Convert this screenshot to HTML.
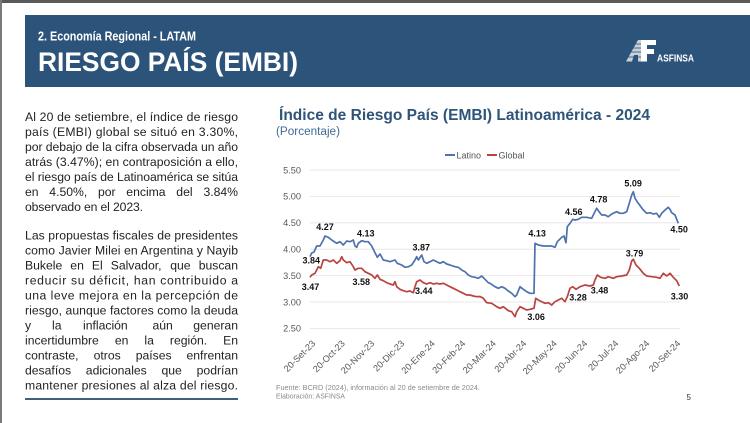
<!DOCTYPE html>
<html>
<head>
<meta charset="utf-8">
<style>
html,body{margin:0;padding:0;background:#fff;}
body{width:750px;height:423px;overflow:hidden;position:relative;font-family:"Liberation Sans",Arial,sans-serif;}
svg{position:absolute;left:0;top:0;}
</style>
</head>
<body>
<svg width="750" height="423" viewBox="0 0 750 423" xmlns="http://www.w3.org/2000/svg" font-family="Liberation Sans, Arial, sans-serif">
  <!-- frame -->
  <rect x="0" y="0" width="750" height="3" fill="#5a5a5a"/>
  <rect x="0" y="0" width="2" height="423" fill="#7a7a7a"/>

  <!-- header banner -->
  <rect x="25" y="15" width="725" height="72" fill="#2c547b"/>
  <text x="38" y="40.5" font-size="13" font-weight="bold" fill="#ffffff" textLength="158" lengthAdjust="spacingAndGlyphs">2. Economía Regional - LATAM</text>
  <text x="38" y="71" font-size="27" font-weight="bold" fill="#ffffff" textLength="260" lengthAdjust="spacingAndGlyphs">RIESGO PAÍS (EMBI)</text>

  <!-- logo -->
  <g>
    <polygon points="626,61.5 638,40 644,40 644,61.5 638,61.5 638,55 634,55 632,61.5" fill="#c9d0d8"/>
    <polygon points="641,40 656,40 656,45 647,45 647,49 654,49 654,54 647,54 647,61.5 641,61.5" fill="#ffffff"/>
    <line x1="628" y1="44" x2="641" y2="44" stroke="#2c547b" stroke-width="0.8"/>
    <line x1="626" y1="48" x2="641" y2="48" stroke="#2c547b" stroke-width="0.8"/>
    <line x1="626" y1="52" x2="641" y2="52" stroke="#2c547b" stroke-width="0.8"/>
    <line x1="626" y1="57" x2="641" y2="57" stroke="#2c547b" stroke-width="0.8"/>
    <text x="657" y="61.5" font-size="10" font-weight="bold" fill="#ffffff" textLength="37" lengthAdjust="spacingAndGlyphs">ASFINSA</text>
  </g>

  <!-- left text -->
  <g font-size="12.2" fill="#222222">
    <text x="25" y="121" textLength="213" lengthAdjust="spacing">Al 20 de setiembre, el índice de riesgo</text>
    <text x="25" y="136" textLength="213" lengthAdjust="spacing">país (EMBI) global se situó en 3.30%,</text>
    <text x="25" y="151" textLength="213" lengthAdjust="spacing">por debajo de la cifra observada un año</text>
    <text x="25" y="166" textLength="213" lengthAdjust="spacing">atrás (3.47%); en contraposición a ello,</text>
    <text x="25" y="181" textLength="213" lengthAdjust="spacing">el riesgo país de Latinoamérica se sitúa</text>
    <text x="25" y="196">en</text>
    <text x="49.3" y="196">4.50%,</text>
    <text x="98" y="196">por</text>
    <text x="126.3" y="196">encima</text>
    <text x="176.3" y="196">del</text>
    <text x="238" y="196" text-anchor="end">3.84%</text>
    <text x="25" y="211" textLength="118" lengthAdjust="spacing">observado en el 2023.</text>

    <text x="25" y="239.5" textLength="213" lengthAdjust="spacing">Las propuestas fiscales de presidentes</text>
    <text x="25" y="254.5" textLength="213" lengthAdjust="spacing">como Javier Milei en Argentina y Nayib</text>
    <text x="25" y="269.5">Bukele</text>
    <text x="70.3" y="269.5">en</text>
    <text x="91.9" y="269.5">El</text>
    <text x="110.7" y="269.5">Salvador,</text>
    <text x="170.2" y="269.5">que</text>
    <text x="238" y="269.5" text-anchor="end">buscan</text>
    <text x="25" y="284.5" textLength="213" lengthAdjust="spacing">reducir su déficit, han contribuido a</text>
    <text x="25" y="299.5" textLength="213" lengthAdjust="spacing">una leve mejora en la percepción de</text>
    <text x="25" y="314.5" textLength="213" lengthAdjust="spacing">riesgo, aunque factores como la deuda</text>
    <text x="25" y="329.5">y</text>
    <text x="52" y="329.5">la</text>
    <text x="83" y="329.5">inflación</text>
    <text x="152.5" y="329.5">aún</text>
    <text x="238" y="329.5" text-anchor="end">generan</text>
    <text x="25" y="344.5">incertidumbre</text>
    <text x="114.9" y="344.5">en</text>
    <text x="144.4" y="344.5">la</text>
    <text x="169.9" y="344.5">región.</text>
    <text x="238" y="344.5" text-anchor="end">En</text>
    <text x="25" y="359.5">contraste,</text>
    <text x="93.6" y="359.5">otros</text>
    <text x="135.7" y="359.5">países</text>
    <text x="238" y="359.5" text-anchor="end">enfrentan</text>
    <text x="25" y="374.5">desafíos</text>
    <text x="85.8" y="374.5">adicionales</text>
    <text x="161.5" y="374.5">que</text>
    <text x="238" y="374.5" text-anchor="end">podrían</text>
    <text x="25" y="389.5" textLength="213" lengthAdjust="spacing">mantener presiones al alza del riesgo.</text>
  </g>
  <rect x="25" y="398" width="213" height="2" fill="#3d5f80"/>

  <!-- chart title -->
  <text x="279" y="120" font-size="15.5" font-weight="bold" fill="#2f5479" textLength="371" lengthAdjust="spacingAndGlyphs">Índice de Riesgo País (EMBI) Latinoamérica - 2024</text>
  <text x="276" y="135" font-size="11.5" fill="#3f6a94" textLength="64" lengthAdjust="spacingAndGlyphs">(Porcentaje)</text>

  <!-- legend -->
  <line x1="445" y1="155" x2="455" y2="155" stroke="#4d72ad" stroke-width="2"/>
  <text x="456.5" y="158.3" font-size="9" fill="#555555">Latino</text>
  <line x1="487" y1="155" x2="497" y2="155" stroke="#b8433f" stroke-width="2"/>
  <text x="498.5" y="158.3" font-size="9" fill="#555555">Global</text>

  <!-- gridlines -->
  <g stroke="#e3e3e3" stroke-width="0.8">
    <line x1="310" y1="170" x2="680" y2="170"/>
    <line x1="310" y1="196.4" x2="680" y2="196.4"/>
    <line x1="310" y1="222.8" x2="680" y2="222.8"/>
    <line x1="310" y1="249.2" x2="680" y2="249.2"/>
    <line x1="310" y1="275.6" x2="680" y2="275.6"/>
    <line x1="310" y1="302" x2="680" y2="302"/>
    <line x1="310" y1="328.4" x2="680" y2="328.4"/>
  </g>
  <g font-size="9.2" fill="#595959" text-anchor="end">
    <text x="301" y="173.3">5.50</text>
    <text x="301" y="199.7">5.00</text>
    <text x="301" y="226.1">4.50</text>
    <text x="301" y="252.5">4.00</text>
    <text x="301" y="278.9">3.50</text>
    <text x="301" y="305.3">3.00</text>
    <text x="301" y="331.7">2.50</text>
  </g>

  <!-- x labels -->
  <g font-size="9.2" fill="#595959" text-anchor="end">
    <text transform="translate(316,344) rotate(-45)">20-Set-23</text>
    <text transform="translate(345.5,344) rotate(-45)">20-Oct-23</text>
    <text transform="translate(375,344) rotate(-45)">20-Nov-23</text>
    <text transform="translate(405,344) rotate(-45)">20-Dic-23</text>
    <text transform="translate(435.5,344) rotate(-45)">20-Ene-24</text>
    <text transform="translate(466,344) rotate(-45)">20-Feb-24</text>
    <text transform="translate(496.5,344) rotate(-45)">20-Mar-24</text>
    <text transform="translate(527,344) rotate(-45)">20-Abr-24</text>
    <text transform="translate(557.5,344) rotate(-45)">20-May-24</text>
    <text transform="translate(588,344) rotate(-45)">20-Jun-24</text>
    <text transform="translate(619,344) rotate(-45)">20-Jul-24</text>
    <text transform="translate(650,344) rotate(-45)">20-Ago-24</text>
    <text transform="translate(681,344) rotate(-45)">20-Set-24</text>
  </g>

  <!-- series -->
  <polyline fill="none" stroke="#b8433f" stroke-width="1.7" stroke-linejoin="round" points="310,277.3 311.7,275 315,273.3 318.3,266.7 320.7,268.3 323.3,260 326.7,260 330,261.7 333.3,260 336.7,263.3 340,260.7 341.7,256.7 343.3,260 346.7,262.7 350,261.7 353.3,266.7 355,270 358.3,268.3 361.7,268.3 365,271.7 368.3,273.3 371.7,275 375,278.3 377.3,275 380,279.3 383.3,280.7 386.7,282.7 390,284 393.3,285 395,281.7 396.7,286.7 400,289.3 403.3,290.7 406.7,291.7 410,291 413.3,292.7 415,286.7 416.7,281.7 420,280 423.3,282.7 426.7,284 430,282.7 433.3,284 436.7,283.3 440,284 443.3,283.3 446.7,285 450,286.7 453.3,288.3 456.7,290 460,291.7 463.3,293.3 466.7,295 470,295 473.3,296 476.7,296.7 480,296.5 483.3,298.3 486.7,302.7 491.7,303.3 496.7,306.7 500,308.3 503.3,306.7 508.3,310.7 511.7,311.7 515,316.7 516.7,311.7 520,306.7 523.3,308.3 526.7,310 530,309.3 534,308.3 535.7,298.3 538.3,300 541.7,301.7 545,303.3 548.3,302.7 551.7,305 555,301.7 558.3,300 561.7,298.3 565,301.7 567.3,296.7 570,288.3 572.7,286.7 576,289.3 580,286.7 585,285 590,286 593.3,285 595,280 597.3,275 600.7,277.3 605,278.3 608.3,276.7 613.3,278.3 616.7,276.7 621.7,276 626.7,275 629.3,270 631.7,261 633.3,259.3 636,265 639.3,268.3 643.3,273.3 646.7,276 651.7,276.7 656.7,277.3 660,278.3 663.3,273.3 666.7,276 670,273.3 673.3,277.3 676.7,280.7 679.3,286"/>
  <polyline fill="none" stroke="#4d72ad" stroke-width="1.7" stroke-linejoin="round" points="310,256.7 311.7,253 314,252 316.7,246 320,246 323.3,240 325,236 328.3,237.3 331.7,240 336.7,243.3 340,241.7 343.3,245 346.7,241 350,241.7 353.3,240 355,246 356.7,247.3 358.3,243.3 361.7,240.7 365,241.7 368.3,241.7 371.7,246 375,252.7 377.3,257.3 380,254 383.3,260 386.7,260.7 390,261.7 395,260 397.3,263.3 401.7,265 405,267.3 408.3,266.7 411.7,265 415,260 416.7,256.7 418.3,260 421.7,255 424,261.7 426.7,263.3 430,261.7 433.3,260 436.7,261.7 440,263.3 443.3,261.7 446.7,264 450,265 455,266.7 458.3,267.3 461.7,270 465,271.7 468.3,275 471.7,276.7 475,277.3 478.3,278.3 481.7,276 485,279.3 488.3,282.7 490,283.3 495,286.7 498.3,288.3 501.7,286.7 505,288.3 508.3,291 511.7,293.3 515,296.7 516.7,295 520,286.7 523.3,289.3 526.7,291.7 530,293.3 534,293.3 535,243.3 538.3,245 543.3,246 548.3,246 551.7,246 555,247.3 557.3,241.7 561.7,237.3 564,236 566,242.7 567.3,226.7 570,223.3 572.7,219.3 575,220 578.3,219.3 581.7,217.3 586.7,217.3 591.7,218.3 593.3,215 596.7,208.3 599,211.7 601.7,215 605,215 608.3,216.7 611.7,214 616.7,211.7 620,213.3 623.3,213.3 626.7,211.7 629.3,203.3 631.7,195 633.3,191.7 635,198.3 638.3,203.3 643.3,210 646.7,213.3 650,212.7 653.3,214 656.7,213.3 659.3,217.3 661.7,213.3 665,210 668.3,207.3 670,209.3 671.7,212.7 675,215 678.3,223.3"/>

  <!-- data labels -->
  <g font-size="9" font-weight="bold" fill="#111111" text-anchor="middle">
    <text x="325" y="230">4.27</text>
    <text x="365.8" y="236.6">4.13</text>
    <text x="421.3" y="250.6">3.87</text>
    <text x="311.3" y="263.3">3.84</text>
    <text x="310.5" y="290">3.47</text>
    <text x="361.3" y="285">3.58</text>
    <text x="423.8" y="294">3.44</text>
    <text x="537.2" y="236.6">4.13</text>
    <text x="573.8" y="215">4.56</text>
    <text x="598.7" y="202.6">4.78</text>
    <text x="633.2" y="186.6">5.09</text>
    <text x="679.2" y="232.6">4.50</text>
    <text x="634.5" y="256.6">3.79</text>
    <text x="578" y="300.6">3.28</text>
    <text x="599.5" y="293.3">3.48</text>
    <text x="536.2" y="320">3.06</text>
    <text x="679.5" y="299.3">3.30</text>
  </g>

  <!-- footer -->
  <text x="276" y="390" font-size="7" fill="#8a8a8a" textLength="204" lengthAdjust="spacingAndGlyphs">Fuente: BCRD (2024), información al 20 de setiembre de 2024.</text>
  <text x="276" y="398.5" font-size="7" fill="#8a8a8a" textLength="69" lengthAdjust="spacingAndGlyphs">Elaboración: ASFINSA</text>
  <text x="686.5" y="400" font-size="8" fill="#333333">5</text>
</svg>
</body>
</html>
